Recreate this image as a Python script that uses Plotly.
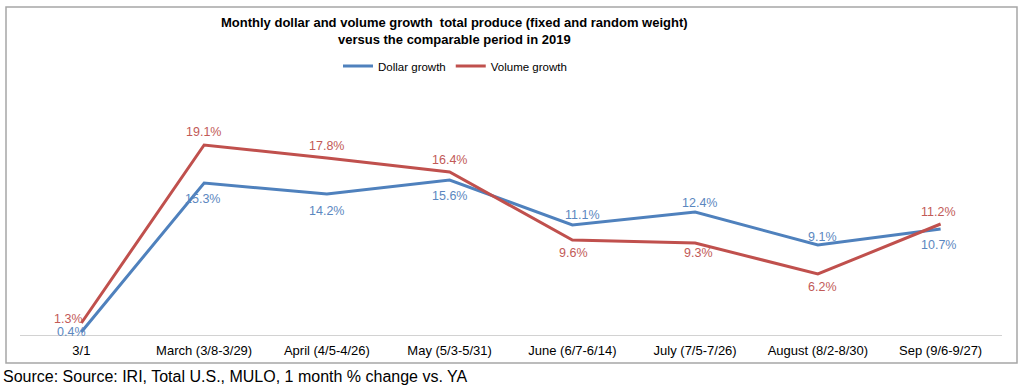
import plotly.graph_objects as go

categories = ["3/1", "March (3/8-3/29)", "April (4/5-4/26)", "May (5/3-5/31)",
              "June (6/7-6/14)", "July (7/5-7/26)", "August (8/2-8/30)", "Sep (9/6-9/27)"]
dollar_growth = [0.4, 15.3, 14.2, 15.6, 11.1, 12.4, 9.1, 10.7]
volume_growth = [1.3, 19.1, 17.8, 16.4, 9.6, 9.3, 6.2, 11.2]

# label offsets in screen pixels (x right, y up) - styling only
dollar_xshift = [-10, -2, 0, 0, 10, 4, 5, -2]
dollar_yshift = [0, -16, -17, -16, 10, 9, 8, -16]
volume_xshift = [-13, -1, 0, 0, 1, 3, 5, -2]
volume_yshift = [4, 13, 12, 12, -13, -10, -13, 12]

FONT = "Liberation Sans, Arial, sans-serif"
BLUE = "#4F81BD"
RED = "#C0504D"
BLUE_TXT = "#5b87c0"
RED_TXT = "#c25a57"

fig = go.Figure()
fig.add_trace(go.Scatter(
    x=categories, y=dollar_growth, name="Dollar growth", mode="lines",
    line=dict(color=BLUE, width=3),
))
fig.add_trace(go.Scatter(
    x=categories, y=volume_growth, name="Volume growth", mode="lines",
    line=dict(color=RED, width=3),
))

L, R, T, B = 20, 22, 86, 52
W, H = 1024, 388
pw = W - L - R
ph = H - T - B

def px(x):
    return (x - L) / pw

def py(y):
    return (H - B - y) / ph

annotations = [
    dict(text="<b>Monthly dollar and volume growth  total produce (fixed and random weight)</b>",
         xref="paper", yref="paper", x=px(454), y=py(22), xanchor="center", yanchor="middle",
         showarrow=False, font=dict(family=FONT, size=13, color="#000000")),
    dict(text="<b>versus the comparable period in 2019</b>",
         xref="paper", yref="paper", x=px(454), y=py(39), xanchor="center", yanchor="middle",
         showarrow=False, font=dict(family=FONT, size=13, color="#000000")),
    dict(text="Source: Source: IRI, Total U.S., MULO, 1 month % change vs. YA",
         xref="paper", yref="paper", x=px(1), y=py(376), xanchor="left", yanchor="middle",
         showarrow=False, font=dict(family=FONT, size=16, color="#000000")),
]
for vals, xs, ys, col in [(dollar_growth, dollar_xshift, dollar_yshift, BLUE_TXT),
                          (volume_growth, volume_xshift, volume_yshift, RED_TXT)]:
    for c, v, dx, dy in zip(categories, vals, xs, ys):
        annotations.append(dict(
            x=c, y=v, xref="x", yref="y", text=f"{v:.1f}%", showarrow=False,
            xanchor="center", yanchor="middle", xshift=dx, yshift=dy,
            font=dict(family=FONT, size=12.5, color=col)))

fig.update_layout(
    width=W, height=H,
    margin=dict(l=L, r=R, t=T, b=B),
    paper_bgcolor="white", plot_bgcolor="white",
    font=dict(family=FONT, size=11, color="#000000"),
    showlegend=True,
    legend=dict(orientation="h", x=px(455), xanchor="center", y=py(66), yanchor="middle",
                font=dict(family=FONT, size=11.5, color="#000000"),
                itemwidth=30, bgcolor="rgba(0,0,0,0)", traceorder="normal"),
    xaxis=dict(showgrid=False, zeroline=False, showline=False, ticks="",
               tickfont=dict(family=FONT, size=13, color="#000000"),
               ticklabelstandoff=5,
               range=[-0.5, len(categories) - 0.5]),
    yaxis=dict(range=[0, 25], showgrid=False, zeroline=False, showline=False,
               showticklabels=False, ticks=""),
    shapes=[
        dict(type="line", xref="paper", yref="y", x0=0, x1=1, y0=0, y1=0,
             line=dict(color="#a6a6a6", width=1.2), layer="below"),
        dict(type="rect", xref="paper", yref="paper",
             x0=px(6), x1=px(1017), y0=py(363), y1=py(7),
             line=dict(color="#a6a6a6", width=1.5), fillcolor="rgba(0,0,0,0)", layer="below"),
    ],
    annotations=annotations,
)

fig.write_html("out.html", config={"displayModeBar": False},
               post_script="document.body.style.margin='0';document.body.style.padding='0';")
